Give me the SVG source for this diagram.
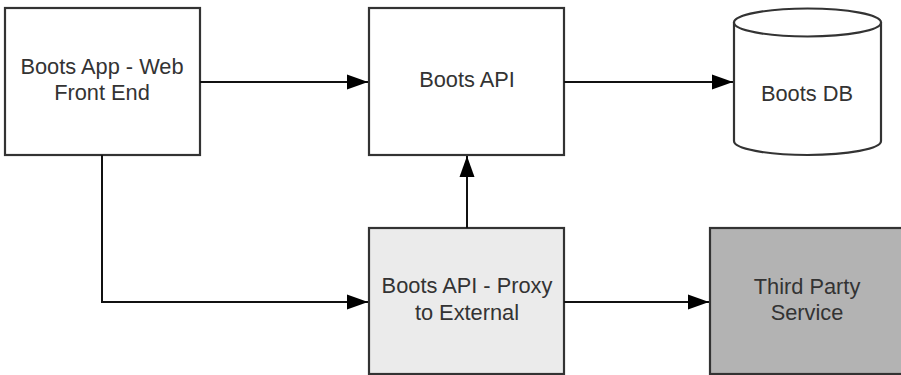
<svg xmlns="http://www.w3.org/2000/svg" width="901" height="375" viewBox="0 0 901 375">
<defs>
<marker id="arr" markerWidth="22" markerHeight="16" refX="21" refY="8" orient="auto" markerUnits="userSpaceOnUse">
<path d="M0,0.5 L21,8 L0,15.5 Z" fill="#000"/>
</marker>
<style>
.box{stroke:#333;stroke-width:2.2}
.t{font-family:"Liberation Sans",Arial,sans-serif;font-size:21.8px;fill:#333;text-anchor:middle}
.c{fill:none;stroke:#111;stroke-width:2}
</style>
</defs>
<rect width="901" height="375" fill="#fff"/>
<g id="web">
<rect class="box" x="5" y="8" width="195" height="147" fill="#fff"/>
<text class="t" x="102" y="74">Boots App - Web</text>
<text class="t" x="102" y="100">Front End</text>
</g>
<g id="api">
<rect class="box" x="369" y="8" width="195" height="147" fill="#fff"/>
<text class="t" x="467" y="87">Boots API</text>
</g>
<g id="db">
<path class="box" d="M734,22 L734,141 A73.5,14 0 0 0 881,141 L881,22" fill="#fff"/>
<ellipse class="box" cx="807.5" cy="22.5" rx="73.5" ry="14" fill="#fff"/>
<text class="t" x="807" y="101">Boots DB</text>
</g>
<g id="proxy">
<rect class="box" x="369" y="228" width="195" height="146" fill="#ebebeb"/>
<text class="t" x="467" y="293">Boots API - Proxy</text>
<text class="t" x="467" y="320">to External</text>
</g>
<g id="third">
<rect class="box" x="710" y="228" width="200" height="146" fill="#b3b3b3"/>
<text class="t" x="807" y="294">Third Party</text>
<text class="t" x="807" y="320">Service</text>
</g>
<g id="connectors">
<line class="c" x1="200" y1="82" x2="368" y2="82" marker-end="url(#arr)"/>
<line class="c" x1="564" y1="82" x2="733" y2="82" marker-end="url(#arr)"/>
<line class="c" x1="467" y1="228" x2="467" y2="156" marker-end="url(#arr)"/>
<polyline class="c" points="102,155 102,302 368,302" marker-end="url(#arr)"/>
<line class="c" x1="564" y1="302" x2="709" y2="302" marker-end="url(#arr)"/>
</g>
</svg>
